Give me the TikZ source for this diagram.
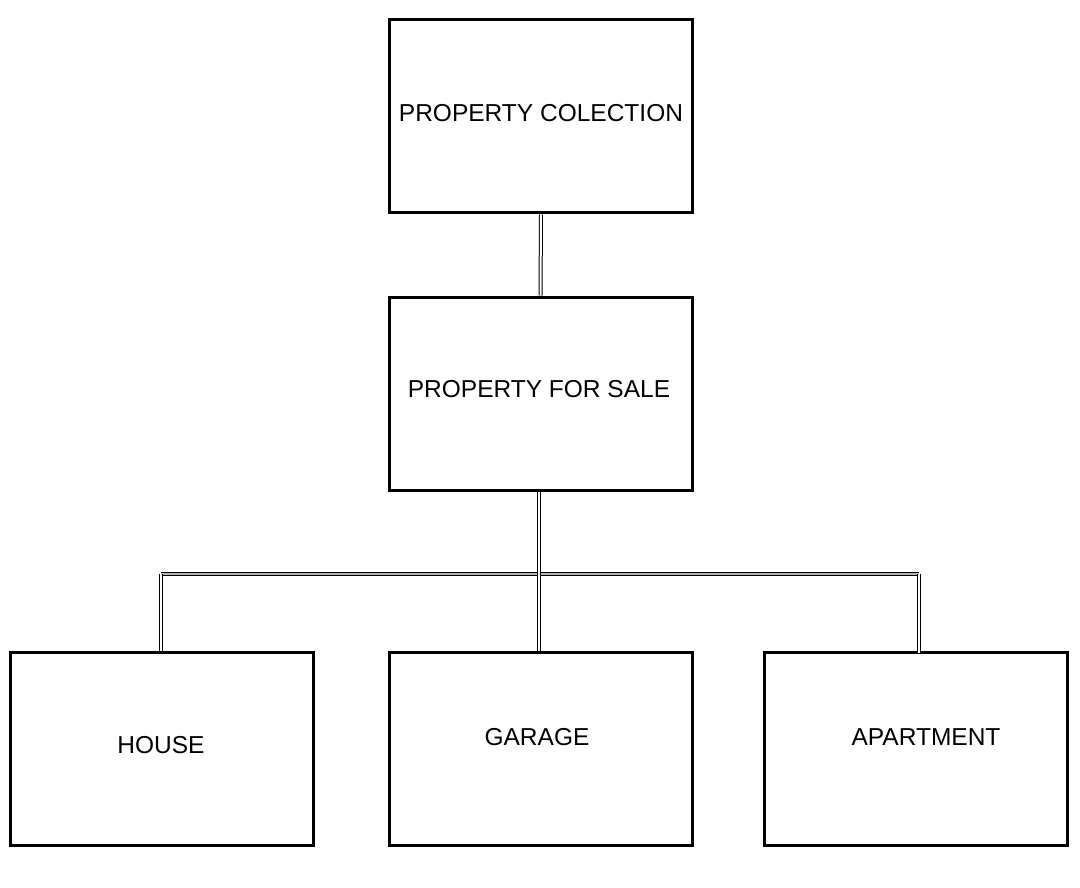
\documentclass[tikz,border=0pt]{standalone}
\usepackage{fontspec}
\setmainfont{Liberation Sans}
\begin{document}
\begin{tikzpicture}[x=1pt,y=-1pt,
  box/.style={draw=black,line width=3pt,minimum width=303pt,minimum height=193pt,inner sep=0pt},
  lbl/.style={font=\fontsize{24.5}{28}\selectfont,inner sep=0pt},
  conn/.style={draw=black,line width=1pt,double=white,double distance=2pt},
  hconn/.style={draw=black,line width=1pt,double=black!30,double distance=2.5pt}]
\useasboundingbox (0,0) rectangle (1080,888);
\node[box] (top) at (541,116.5) {};
\node[lbl] (ttop) at (541,113) {PROPERTY COLECTION};
\node[box] (mid) at (540.5,393.5) {};
\node[lbl] (tmid) at (539,389) {PROPERTY FOR SALE};
\node[box] (house) at (162,748.5) {};
\node[lbl] (thouse) at (161,745) {HOUSE};
\node[box] (garage) at (540.5,748.5) {};
\node[lbl] (tgarage) at (537,737) {GARAGE};
\node[box] (apt) at (915.5,748.5) {};
\node[lbl] (tapt) at (926,737) {APARTMENT};
\coordinate (hl) at (161,574);
\coordinate (hr) at (919,574);
\coordinate (ra) at (919,653);
\draw[conn] (top.south) -- (mid.north);
\draw[hconn] (hl) -- (hr);
\draw[conn] ([xshift=-1.5pt]mid.south) -- ([xshift=-1.5pt]garage.north);
\draw[conn] (hl) -- (hl |- house.north);
\draw[conn] (hr) -- (ra);
\end{tikzpicture}
\end{document}
